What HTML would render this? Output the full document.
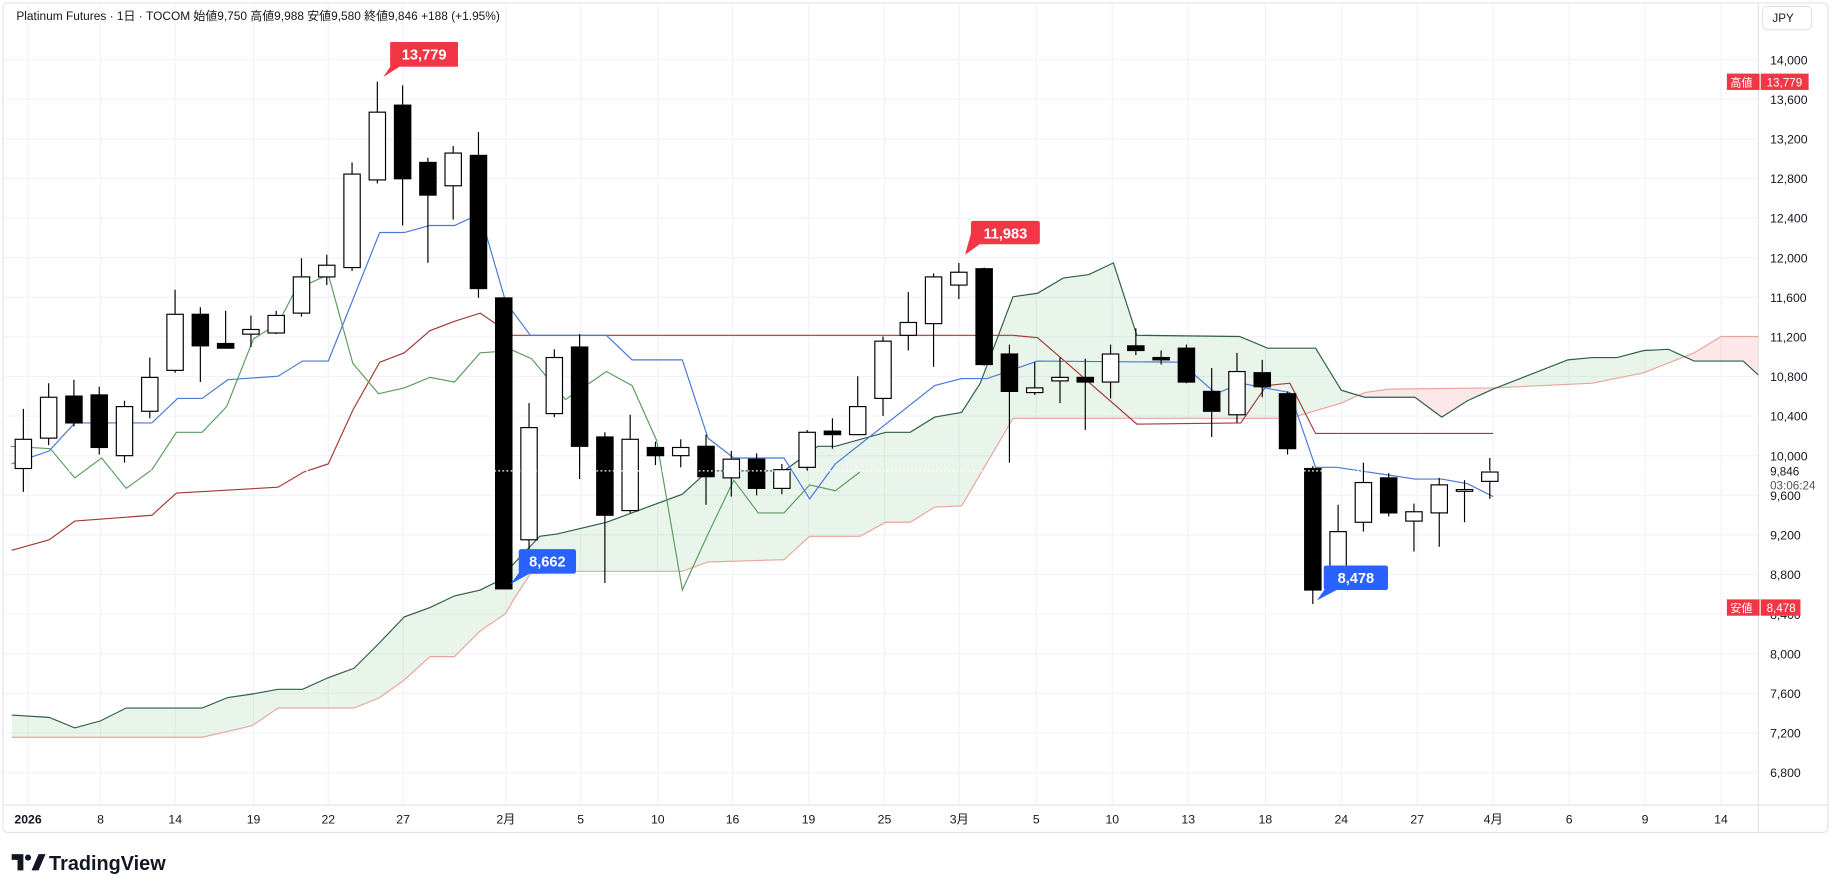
<!DOCTYPE html>
<html><head><meta charset="utf-8">
<style>
html,body{margin:0;padding:0;background:#fff;}
body{width:1832px;height:891px;overflow:hidden;}
svg{display:block;font-family:"Liberation Sans","Noto Sans CJK JP",sans-serif;}
</style></head>
<body>
<svg id="c" width="1832" height="891" viewBox="0 0 1568 762.6" xmlns="http://www.w3.org/2000/svg">
<defs>
<clipPath id="aboveB"><path id="cpB"/></clipPath>
<clipPath id="aboveA"><path id="cpA"/></clipPath>
<clipPath id="plot"><rect x="3" y="3" width="1502" height="686"/></clipPath>
</defs>
<rect x="2.5" y="2.5" width="1562" height="710" rx="4" fill="#fff" stroke="#e0e3eb"/>
<g id="grid" stroke="#f0f3fa" stroke-width="1"></g>
<line x1="1505" y1="3" x2="1505" y2="712" stroke="#e0e3eb"/>
<line x1="3" y1="689" x2="1564" y2="689" stroke="#e0e3eb"/>
<g clip-path="url(#plot)">
<path id="gfill" fill="rgba(76,175,80,0.12)" clip-path="url(#aboveB)"/>
<path id="rfill" fill="rgba(242,54,69,0.12)" clip-path="url(#aboveA)"/>
<g id="lines" fill="none" stroke-width="1"></g>
<g id="candles"></g>
</g>
<g id="labels" font-size="10.5" fill="#131722"></g>
<text x="14" y="17" font-size="10.2" fill="#131722">Platinum Futures · 1日 · TOCOM  始値9,750  高値9,988  安値9,580  終値9,846  +188 (+1.95%)</text>
<rect x="1508.5" y="5.5" width="42" height="20" rx="4" fill="#fff" stroke="#e0e3eb"/>
<text x="1517" y="19" font-size="10" fill="#131722">JPY</text>
<rect x="1478" y="63" width="28" height="14" fill="#f23645"/><text x="1481" y="74" font-size="9.5" fill="#fff">高値</text>
<rect x="1507" y="63" width="41" height="14" fill="#f23645"/><text x="1512" y="74" font-size="10" fill="#fff">13,779</text>
<rect x="1478" y="513" width="28" height="14" fill="#f23645"/><text x="1481" y="524" font-size="9.5" fill="#fff">安値</text>
<rect x="1507" y="513" width="34" height="14" fill="#f23645"/><text x="1512" y="524" font-size="10" fill="#fff">8,478</text>
<text x="1515" y="407" font-size="10" fill="#131722">9,846</text>
<text x="1515" y="419" font-size="10" fill="#555">03:06:24</text>
<g font-size="12.5" font-weight="bold" fill="#fff">
<path d="M334,36 h58 v21 h-50 l-14,9 l6,-9 h0 z" fill="#f23645"/><rect x="334" y="36" width="58" height="21" rx="2" fill="#f23645"/><text x="363" y="51" text-anchor="middle">13,779</text>
<path d="M831,200 l-5,18 l14,-10 z" fill="#f23645"/><rect x="831" y="189" width="59" height="20" rx="2" fill="#f23645"/><text x="860.5" y="204" text-anchor="middle">11,983</text>
<path d="M448,485 l-11,15 l18,-10 z" fill="#2962ff"/><rect x="444" y="470" width="49" height="21" rx="2" fill="#2962ff"/><text x="468.5" y="485" text-anchor="middle">8,662</text>
<path d="M1137,500 l-10,14 l17,-9 z" fill="#2962ff"/><rect x="1133" y="484" width="55" height="21" rx="2" fill="#2962ff"/><text x="1160.5" y="499" text-anchor="middle">8,478</text>
</g>
<g transform="translate(10,729)">
<path d="M0,2 h10 v14 h-5 v-9 h-5 z" fill="#131722"/><circle cx="14" cy="5" r="2.6" fill="#131722"/><path d="M17,16 l6,-14 h6 l-6,14 z" fill="#131722"/>
<text x="32" y="15.5" font-size="17" font-weight="bold" fill="#131722">TradingView</text>
</g>
</svg>
<script>
(function(){
var NS="http://www.w3.org/2000/svg";
function el(n,a,p,t){var e=document.createElementNS(NS,n);for(var k in a)e.setAttribute(k,a[k]);if(t)e.textContent=t;p.appendChild(e);return e;}
var grid=document.getElementById('grid'),labels=document.getElementById('labels');
for(var i=0;i<=18;i++){var p=14000-400*i;var y=51+i*33.9;
 el('line',{x1:3,y1:y,x2:1505,y2:y},grid);
 el('text',{x:1515,y:y+4},labels,(p/1000|0)+','+('00'+(p%1000)).slice(-3));}
var dates=[[24,'2026'],[86,'8'],[150,'14'],[217,'19'],[281,'22'],[345,'27'],[433,'2月'],[497,'5'],[563,'10'],[627,'16'],[692,'19'],[757,'25'],[821,'3月'],[887,'5'],[952,'10'],[1017,'13'],[1083,'18'],[1148,'24'],[1213,'27'],[1278,'4月'],[1343,'6'],[1408,'9'],[1473,'14']];
dates.forEach(function(d){el('line',{x1:d[0],y1:3,x2:d[0],y2:689},grid);
 var t=el('text',{x:d[0],y:705,'text-anchor':'middle'},labels,d[1]); if(d[1]=='2026')t.setAttribute('font-weight','bold');});
function pts(a){return a.map(function(p){return p[0]+','+p[1];}).join(' ');}
var A=[[10,612],[42,614],[64,623],[86,617],[108,606],[173,606],[195,597],[216,594],[238,590],[259,590],[281,580],[303,572],[325,550],[346,528],[368,520],[389,510],[411,505],[425,498],[462,459],[477,457],[519,447],[584,423],[606,403],[671,403],[700,382],[715,382],[758,370],[779,370],[800,357],[823,353],[839,328],[867,254],[888,251],[910,238],[932,235],[953,225],[973,287],[1061,288],[1085,298],[1126,298],[1148,334],[1168,340],[1211,340],[1234,357],[1256,343],[1278,333],[1342,308],[1363,306],[1384,306],[1407,300],[1428,299],[1450,309],[1492,309],[1505,321]];
var B=[[10,631],[173,631],[195,626],[216,621],[238,606],[303,606],[325,597],[346,582],[368,562],[389,562],[411,540],[433,525],[439,514],[454,491],[496,489],[584,489],[606,481],[671,479],[693,459],[736,459],[758,447],[779,447],[800,434],[823,433],[856,377],[867,358],[1104,358],[1148,345],[1168,336],[1189,333],[1278,332],[1363,328],[1407,319],[1450,302],[1473,288],[1505,288]];
function poly(L,yEdge){return 'M'+L[0][0]+','+yEdge+' L'+pts(L)+' L'+L[L.length-1][0]+','+yEdge+' Z';}
document.getElementById('cpB').setAttribute('d',poly(B,0));
document.getElementById('cpA').setAttribute('d',poly(A,0));
document.getElementById('gfill').setAttribute('d',poly(A,760));
document.getElementById('rfill').setAttribute('d',poly(B,760));
var lines=document.getElementById('lines');
el('polyline',{points:pts(B),stroke:'#e8a59e'},lines);
el('polyline',{points:pts(A),stroke:'#2e5e45'},lines);
var blue=[[10,397],[42,386],[64,362],[130,362],[152,341],[173,341],[195,325],[238,322],[259,309],[281,309],[303,254],[325,199],[346,199],[368,193],[389,193],[411,183],[433,259],[454,287],[519,287],[541,308],[584,308],[606,375],[628,392],[671,392],[693,427],[715,397],[800,330],[823,324],[845,324],[888,309],[1010,310],[1041,337],[1062,328],[1104,336],[1126,400],[1144,400],[1211,410],[1234,410],[1256,414],[1278,425]];
var red=[[10,471],[42,462],[64,446],[130,441],[151,422],[238,417],[260,404],[281,397],[302,351],[325,310],[346,302],[368,283],[389,275],[411,268],[433,283],[433,287],[867,287],[888,289],[910,308],[973,363],[1062,362],[1084,330],[1104,328],[1126,371],[1278,371]];
var green=[[9,382],[43,384],[64,409],[87,392],[108,418],[130,402],[151,370],[173,370],[194,348],[217,290],[238,277],[253,248],[281,235],[302,311],[324,337],[346,332],[368,323],[389,327],[411,302],[439,300],[455,307],[484,342],[519,318],[541,330],[562,377],[584,505],[606,457],[628,411],[649,439],[671,439],[693,415],[715,420],[736,404]];
el('polyline',{points:pts(red),stroke:'#a33a36'},lines);
el('polyline',{points:pts(green),stroke:'#5b9c5e'},lines);
el('polyline',{points:pts(blue),stroke:'#4a78d4'},lines);
var C=[['w',376,401,350,421],['w',340,375,328,381],['b',339,362,325,365],['b',338,383,331,389],['w',348,390,343,396],['w',323,352,306,358],['w',269,317,248,319],['b',269,296,263,327],['b',294,298,266,298],['w',282,286,270,297],['w',270,285,266,286],['w',237,268,221,271],['w',227,237,218,244],['w',149,229,139,232],['w',96,154,70,157],['b',90,153,73,193],['b',139,167,135,225],['w',131,159,125,188],['b',133,247,113,255],['b',255,504,255,504],['w',366,462,345,478],['w',306,354,299,357],['b',297,382,286,410],['b',374,441,370,499],['w',376,437,355,439],['b',383,390,378,398],['w',383,390,376,400],['b',382,408,372,432],['w',393,409,386,425],['b',393,418,388,424],['w',402,418,397,423],['w',370,400,368,403],['b',369,372,358,384],['w',348,372,322,372],['w',292,341,288,356],['w',276,287,250,300],['w',237,277,234,314],['w',233,244,225,256],['b',230,312,229,313],['b',303,335,295,396],['w',332,336,310,338],['w',323,326,306,345],['b',323,327,307,368],['w',303,327,295,341],['b',296,300,281,304],['b',306,308,300,312],['b',298,327,295,328],['b',335,352,315,374],['w',318,355,302,362],['b',319,331,308,340],['b',337,384,335,389],['b',401,505,399,517],['w',455,500,432,500],['w',413,447,396,455],['b',409,439,405,442],['w',438,446,431,472],['w',415,439,409,468],['w',419,420,411,447],['w',404,412,392,427]];
var cg=document.getElementById('candles');
C.forEach(function(c,i){var x=20+21.64*i;
 el('line',{x1:x,y1:c[3],x2:x,y2:c[4],stroke:'#000','stroke-width':1},cg);
 var h=Math.max(c[2]-c[1],1.5);
 el('rect',{x:x-7,y:c[1],width:14,height:h,fill:c[0]=='w'?'#fff':'#000',stroke:'#000','stroke-width':1},cg);});
el('line',{x1:10,y1:403,x2:1505,y2:403,stroke:'#fff','stroke-dasharray':'1.5,2','stroke-width':1},cg);
})();
</script>
</body></html>
